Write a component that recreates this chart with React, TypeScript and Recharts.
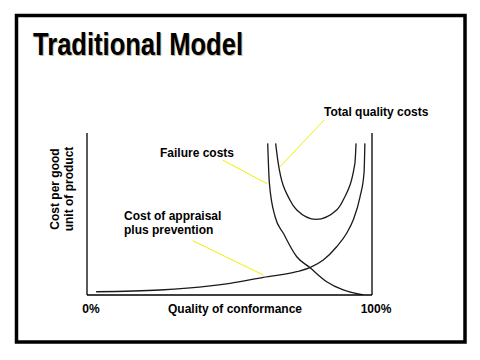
import React from 'react';
import {
  LineChart,
  Line,
  XAxis,
  YAxis,
  ReferenceLine,
} from 'recharts';

// quality of conformance (%) vs relative cost
const appraisalX = [3.2, 25.6, 43.2, 50.2, 61.9, 73.6, 78.2, 82.9, 87.6, 91.1, 93.4, 95.8, 97.2, 97.5];
const appraisalY = [2.0, 3.1, 5.6, 7.2, 10.9, 14.4, 16.9, 21.6, 29.8, 38.1, 46.3, 60.6, 75.3, 93.6];

const failureX = [63.4, 64.0, 66.0, 68.9, 73.6, 78.2, 84.1, 89.9, 96.9];
const failureY = [93.6, 68.9, 48.3, 38.1, 23.6, 16.9, 8.2, 3.1, 0];

const totalX = [66.2, 67.1, 71.2, 73.6, 80.4, 87.6, 89.9, 94.0, 94.4];
const totalY = [93.6, 81.3, 58.6, 52.5, 46.7, 52.5, 58.6, 81.3, 93.6];

const xTicks = [0, 100];

// leader lines from the labels to the curves: [x1, y1, x2, y2]
const leaderTotal = [83.2, 108.0, 67.7, 79.1];
const leaderFailure = [47.7, 83.2, 63.1, 68.8];
const leaderAppraisal = [37.1, 33.5, 61.9, 12.3];

const toPoints = (xs: number[], ys: number[]) => xs.map((x, i) => ({ x, y: ys[i] }));

const appraisalData = toPoints(appraisalX, appraisalY);
const failureData = toPoints(failureX, failureY);
const totalData = toPoints(totalX, totalY);

const FONT = "Arial, 'Liberation Sans', sans-serif";
const CURVE = '#1a1a1a';
const LEADER = '#f2ee00';

const leaderSegment = (l: number[]) => [
  { x: l[0], y: l[1] },
  { x: l[2], y: l[3] },
];

function PercentTick(props: any) {
  const { x, y, payload } = props;
  return (
    <text
      x={x + 4}
      y={y + 18}
      textAnchor="middle"
      fontFamily={FONT}
      fontWeight="bold"
      fontSize={12}
      fill="#000"
    >
      {payload.value}%
    </text>
  );
}

export default function App() {
  const textProps = {
    fontFamily: FONT,
    fontWeight: 'bold' as const,
    fontSize: 12,
    fill: '#000',
  };
  return (
    <div style={{ position: 'absolute', left: 0, top: 0, width: 480, height: 360, background: '#fff' }}>
      <LineChart
        width={480}
        height={360}
        margin={{ top: 133, right: 108, bottom: 35, left: 87 }}
      >
        <XAxis
          type="number"
          dataKey="x"
          domain={[0, 100]}
          allowDataOverflow
          ticks={xTicks}
          tick={<PercentTick />}
          tickLine={false}
          tickSize={0}
          tickMargin={0}
          height={30}
          axisLine={{ stroke: '#000', strokeWidth: 1.3 }}
        />
        <YAxis type="number" dataKey="y" domain={[0, 100]} allowDataOverflow hide />
        <ReferenceLine x={0} stroke="#000" strokeWidth={1.3} ifOverflow="visible" />
        <ReferenceLine x={100} stroke="#000" strokeWidth={1.3} ifOverflow="visible" />
        <ReferenceLine segment={leaderSegment(leaderTotal)} stroke={LEADER} strokeWidth={1} ifOverflow="visible" />
        <ReferenceLine segment={leaderSegment(leaderFailure)} stroke={LEADER} strokeWidth={1} ifOverflow="visible" />
        <ReferenceLine segment={leaderSegment(leaderAppraisal)} stroke={LEADER} strokeWidth={1} ifOverflow="visible" />
        <Line
          data={appraisalData}
          dataKey="y"
          type="monotone"
          stroke={CURVE}
          strokeWidth={1.3}
          dot={false}
          isAnimationActive={false}
        />
        <Line
          data={failureData}
          dataKey="y"
          type="monotone"
          stroke={CURVE}
          strokeWidth={1.3}
          dot={false}
          isAnimationActive={false}
        />
        <Line
          data={totalData}
          dataKey="y"
          type="monotone"
          stroke={CURVE}
          strokeWidth={1.3}
          dot={false}
          isAnimationActive={false}
        />
      </LineChart>
      <svg
        width={480}
        height={360}
        style={{ position: 'absolute', left: 0, top: 0, pointerEvents: 'none' }}
      >
        <rect x={16.5} y={15.5} width={448.5} height={326.5} fill="none" stroke="#000" strokeWidth={3.5} />
        <text
          x={34}
          y={56}
          fontFamily={FONT}
          fontWeight="bold"
          fontSize={32}
          fill="#a08850"
          textLength={210}
          lengthAdjust="spacingAndGlyphs"
          opacity={0.6}
        >
          Traditional Model
        </text>
        <text
          x={33}
          y={55}
          fontFamily={FONT}
          fontWeight="bold"
          fontSize={32}
          fill="#000"
          textLength={210}
          lengthAdjust="spacingAndGlyphs"
        >
          Traditional Model
        </text>
        <text {...textProps} x={324} y={116}>Total quality costs</text>
        <text {...textProps} x={160} y={157}>Failure costs</text>
        <text {...textProps} x={124} y={220}>Cost of appraisal</text>
        <text {...textProps} x={124} y={234}>plus prevention</text>
        <text {...textProps} x={168} y={313}>Quality of conformance</text>
        <text {...textProps} x={59} y={189} textAnchor="middle" transform="rotate(-90 59 189)">
          Cost per good
        </text>
        <text {...textProps} x={72.5} y={189} textAnchor="middle" transform="rotate(-90 72.5 189)">
          unit of product
        </text>
      </svg>
    </div>
  );
}
